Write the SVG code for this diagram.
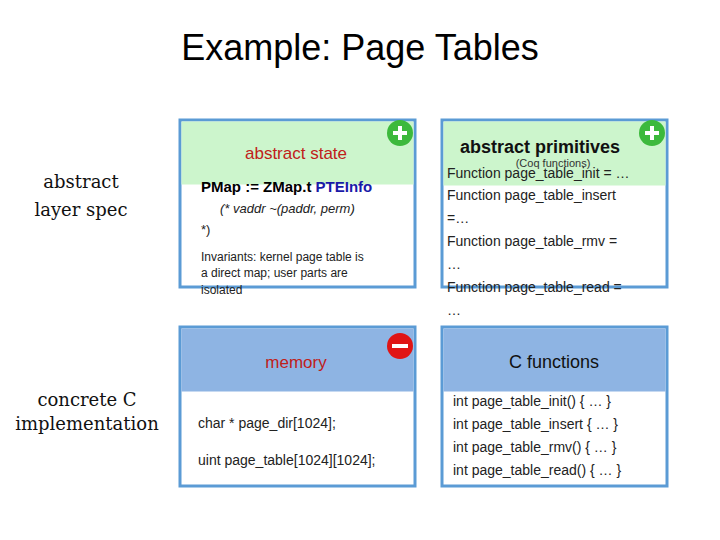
<svg xmlns="http://www.w3.org/2000/svg" width="720" height="540" viewBox="0 0 720 540">
<style>
.box{fill:#fff;stroke:#5b9bd5;stroke-width:3}
.s{font-family:"Liberation Sans",Arial,sans-serif}
.ser{font-family:"DejaVu Serif","Liberation Serif",serif;font-size:18px;fill:#111;text-anchor:middle}
</style>
<rect width="720" height="540" fill="#fff"/>
<text x="360" y="60" class="s" font-size="36" text-anchor="middle" fill="#000">Example: Page Tables</text>
<text x="81" y="188" class="ser">abstract</text>
<text x="81" y="216" class="ser">layer spec</text>
<text x="87" y="406" class="ser">concrete C</text>
<text x="87" y="430" class="ser">implementation</text>
<g id="abstract-state">
<rect x="180" y="120" width="235" height="167" class="box"/>
<rect x="181.5" y="121.5" width="232" height="63" fill="#ccf5cc"/>
<text x="296" y="159" class="s" font-size="17" text-anchor="middle" fill="#c0201a">abstract state</text>
<text x="201" y="192" class="s" font-size="15" font-weight="bold" fill="#000">PMap := ZMap.t <tspan fill="#1a1aa8">PTEInfo</tspan></text>
<text x="220" y="213" class="s" font-size="13" font-style="italic" fill="#222">(* vaddr  ~(paddr,  perm)</text>
<text x="201" y="234" class="s" font-size="13" fill="#222">*)</text>
<text x="201" y="261" class="s" font-size="12" fill="#222">Invariants:  kernel page table is</text>
<text x="201" y="277" class="s" font-size="12" fill="#222">a direct map; user parts are</text>
<text x="201" y="294" class="s" font-size="12" fill="#222">isolated</text>
<circle cx="400" cy="133" r="13" fill="#3cb93c"/>
<path d="M400 126v14M393 133h14" stroke="#fff" stroke-width="4"/>
</g>
<g id="abstract-primitives">
<rect x="442" y="120" width="225" height="167" class="box"/>
<rect x="443.5" y="121.5" width="222" height="64" fill="#ccf5cc"/>
<text x="540" y="153" class="s" font-size="18" font-weight="bold" text-anchor="middle" fill="#111">abstract primitives</text>
<text x="553" y="167" class="s" font-size="11" text-anchor="middle" fill="#333">(Coq functions)</text>
<g class="s" font-size="14" fill="#222">
<text x="447" y="178">Function page_table_init = …</text>
<text x="447" y="200">Function page_table_insert</text>
<text x="447" y="223">=…</text>
<text x="447" y="246">Function page_table_rmv =</text>
<text x="447" y="269">…</text>
<text x="447" y="292">Function page_table_read =</text>
<text x="447" y="315">…</text>
</g>
<circle cx="652" cy="133" r="13" fill="#3cb93c"/>
<path d="M652 126v14M645 133h14" stroke="#fff" stroke-width="4"/>
</g>
<g id="memory">
<rect x="180" y="327" width="235" height="159" class="box"/>
<rect x="181.5" y="328.5" width="232" height="63" fill="#8eb4e3"/>
<text x="296" y="368" class="s" font-size="17" text-anchor="middle" fill="#c0201a">memory</text>
<text x="198" y="428" class="s" font-size="14" fill="#222">char * page_dir[1024];</text>
<text x="198" y="465" class="s" font-size="14" fill="#222">uint page_table[1024][1024];</text>
<circle cx="400" cy="346" r="13" fill="#e01515"/>
<path d="M392 346h16" stroke="#fff" stroke-width="4"/>
</g>
<g id="c-functions">
<rect x="442" y="327" width="225" height="159" class="box"/>
<rect x="443.5" y="328.5" width="222" height="63" fill="#8eb4e3"/>
<text x="554" y="368" class="s" font-size="18" text-anchor="middle" fill="#111">C functions</text>
<g class="s" font-size="14" fill="#222">
<text x="453" y="406">int page_table_init() { … }</text>
<text x="453" y="429">int page_table_insert { … }</text>
<text x="453" y="452">int page_table_rmv() { … }</text>
<text x="453" y="475">int page_table_read() { … }</text>
</g>
</g>
<g id="connectors"/>
</svg>
